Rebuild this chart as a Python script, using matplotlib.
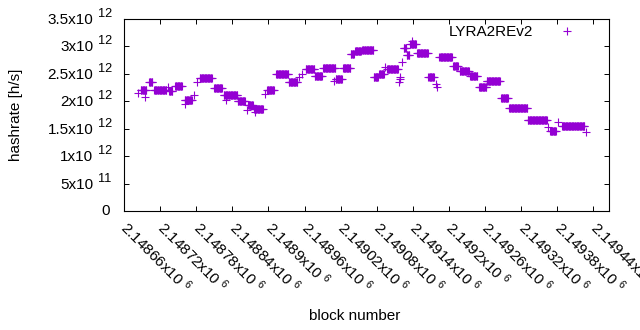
import matplotlib
matplotlib.use('Agg')
import matplotlib.pyplot as plt
from matplotlib.transforms import offset_copy
import numpy as np

# runs of blocks with the same hashrate: first block, last block, hashrate [1e12 h/s]
seg_start = [2148683, 2148688, 2148695, 2148702, 2148710, 2148733, 2148735, 2148745,
             2148761, 2148761, 2148776, 2148781, 2148786, 2148810, 2148826, 2148830,
             2148849, 2148864, 2148866, 2148876, 2148878, 2148894, 2148898, 2148913,
             2148934, 2148951, 2148956, 2148962, 2148977, 2148991, 2149009, 2149012,
             2149024, 2149037, 2149044, 2149056, 2149075, 2149084, 2149094, 2149097,
             2149117, 2149118, 2149119, 2149122, 2149125, 2149130, 2149136, 2149139,
             2149147, 2149166, 2149179, 2149180, 2149184, 2149207, 2149218, 2149235,
             2149250, 2149263, 2149287, 2149300, 2149331, 2149365, 2149368, 2149381,
             2149388, 2149428]
seg_end = [2148683, 2148697, 2148695, 2148707, 2148730, 2148733, 2148740, 2148756,
           2148773, 2148761, 2148776, 2148781, 2148806, 2148823, 2148848, 2148830,
           2148861, 2148864, 2148874, 2148891, 2148878, 2148894, 2148909, 2148933,
           2148948, 2148951, 2148956, 2148976, 2148989, 2149011, 2149009, 2149022,
           2149036, 2149042, 2149054, 2149074, 2149082, 2149092, 2149094, 2149115,
           2149117, 2149118, 2149119, 2149122, 2149129, 2149134, 2149145, 2149139,
           2149165, 2149175, 2149179, 2149180, 2149205, 2149215, 2149233, 2149247,
           2149262, 2149285, 2149298, 2149330, 2149363, 2149365, 2149378, 2149381,
           2149425, 2149428]
seg_rate = [2.151, 2.206, 2.078, 2.351, 2.206, 2.260, 2.187, 2.279,
            2.023, 1.950, 2.114, 2.351, 2.424, 2.242, 2.114, 2.023,
            2.005, 1.841, 1.932, 1.859, 1.805, 2.133, 2.206, 2.497,
            2.351, 2.443, 2.497, 2.588, 2.461, 2.607, 2.370, 2.406,
            2.607, 2.862, 2.917, 2.935, 2.443, 2.497, 2.625, 2.588,
            2.351, 2.406, 2.443, 2.716, 2.971, 2.844, 3.044, 3.099,
            2.880, 2.443, 2.315, 2.260, 2.807, 2.643, 2.552, 2.461,
            2.260, 2.370, 2.060, 1.878, 1.659, 1.531, 1.458, 1.622,
            1.549, 1.440]

x_ticks = np.arange(2148660, 2149441, 60)
y_ticks = np.arange(0, 3.51e12, 0.5e12)

blocks = []
rates = []
for s, e, r in zip(seg_start, seg_end, seg_rate):
    for b in range(s, e + 1):
        blocks.append(b)
        rates.append(r * 1e12)


def split_sci(v):
    e = int(np.floor(np.log10(abs(v))))
    m = v / 10 ** e
    return '%gx10' % m, '%d' % e


plt.rcParams['font.family'] = 'Liberation Sans'
plt.rcParams['mathtext.fontset'] = 'custom'
plt.rcParams['mathtext.rm'] = 'Liberation Sans'
plt.rcParams['mathtext.it'] = 'Liberation Sans'
plt.rcParams['font.size'] = 11

fig = plt.figure(figsize=(6.4, 3.3), dpi=100)
ax = fig.add_axes([124 / 640, 1 - 211 / 330, 485 / 640, 192 / 330])

ax.plot(blocks, rates, ls='none', marker='+', ms=5.3, mew=0.8, color='#9400D3', label='LYRA2REv2')

ax.set_xlim(2148660, 2149466)
ax.set_ylim(0, 3.5e12)
ax.set_xticks(x_ticks)
ax.set_xticklabels(['%s $^{%s}$' % split_sci(v) for v in x_ticks], rotation=-45, ha='left',
                   va='center', rotation_mode='anchor')
ax.set_yticks(y_ticks)
ax.set_yticklabels([''] * len(y_ticks))
ax.tick_params(direction='in', top=True, right=True, length=3.3, width=0.7)
ax.tick_params(axis='x', pad=10)

# y tick labels gnuplot style: mantissa x10 with a raised exponent
ytrans = ax.get_yaxis_transform()
for v in y_ticks:
    if v == 0:
        ax.text(0, v, '0', ha='right', va='center',
                transform=offset_copy(ytrans, fig, x=-14, y=0, units='dots'))
        continue
    base, expo = split_sci(v)
    ax.text(0, v, base, ha='right', va='center',
            transform=offset_copy(ytrans, fig, x=-30.7, y=-1, units='dots'))
    ax.text(0, v, expo, ha='left', va='center', fontsize=9.2,
            transform=offset_copy(ytrans, fig, x=-25.7, y=5, units='dots'))

for sp in ax.spines.values():
    sp.set_linewidth(0.8)

ax.set_ylabel('hashrate [h/s]', va='center')
ax.yaxis.set_label_coords(-0.222, 0.5)
ax.set_xlabel('block number', va='center')
ax.xaxis.set_label_coords(0.476, -0.547)

ax.legend(loc='center right', bbox_to_anchor=(0.961, 0.932), frameon=False, markerfirst=False,
          handlelength=3, handletextpad=0.72, borderpad=0, borderaxespad=0)

fig.savefig('out.png', dpi=100)
plt.close()
